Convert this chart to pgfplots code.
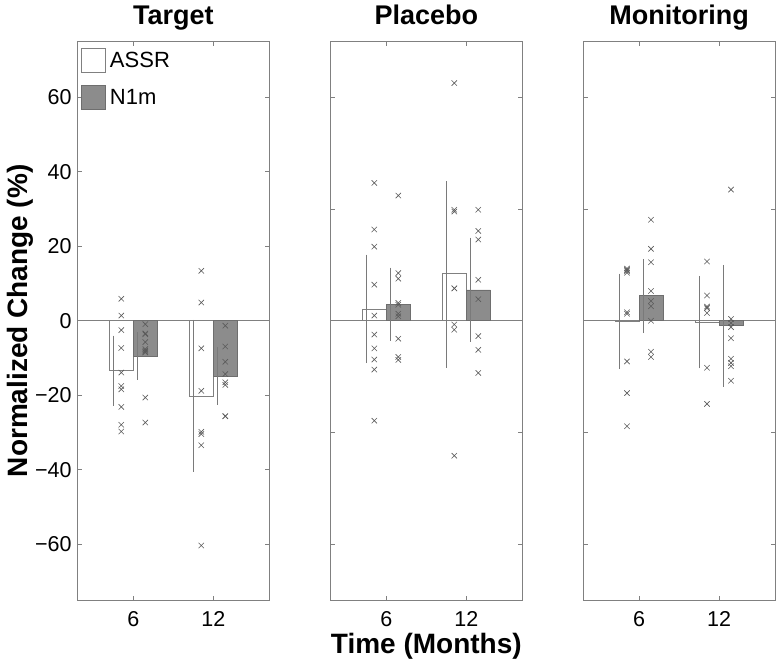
\documentclass[border=0pt]{standalone}
\usepackage{fontspec}
\setmainfont{Liberation Sans}
\usepackage{pgfplots}
\pgfplotsset{compat=1.18}
\definecolor{axgray}{HTML}{808080}
\definecolor{barfill}{HTML}{8C8C8C}
\definecolor{baredge}{HTML}{6E6E6E}
\definecolor{crossgray}{HTML}{5A5A5A}
\definecolor{errgray}{HTML}{7A7A7A}
\pgfplotsset{
  panel/.style={
    scale only axis, width=192bp, height=559bp,
    xmin=0.3, xmax=2.7, ymin=-75, ymax=75,
    xtick={1,2}, xticklabels={6,12},
    axis line style={axgray, line width=0.8bp},
    every tick/.style={axgray, line width=0.8bp},
    major tick length=4.5bp,
    tick align=inside,
    tick label style={font=\fontsize{21.5bp}{24bp}\selectfont, text=black},
    xticklabel style={anchor=base, yshift=-26.4bp},
    yticklabel style={anchor=east, inner sep=0pt, xshift=-5.5bp},
    title style={font=\fontsize{27bp}{30bp}\selectfont\bfseries, at={(0.5,1)}, anchor=base, yshift=11bp},
    anchor=south west,
  },
  cross/.style={forget plot, only marks, mark=x, mark size=3.8bp, mark options={crossgray, line width=0.6bp}},
  assr/.style={forget plot, ybar, bar width=0.3, bar shift=0pt, fill=white, draw=axgray, line width=0.7bp},
  nonem/.style={forget plot, ybar, bar width=0.3, bar shift=0pt, fill=barfill, draw=baredge, line width=0.7bp},
  errs/.style={forget plot, draw=none, mark=none,
    error bars/.cd, y dir=both, y explicit,
    error bar style={draw=errgray, line width=0.7bp},
    error mark options={draw=errgray, mark size=2bp, line width=0.7bp}},
  zeroline/.style={forget plot, axgray, line width=0.8bp},
}
\begin{document}
\begin{tikzpicture}
\path[use as bounding box] (0,0) rectangle (776bp,659bp);
% ---------------- Target ----------------
\begin{axis}[panel, at={(77.3bp,58.7bp)}, title={Target},
  ytick={-60,-40,-20,0,20,40,60}, yticklabels={−60,−40,−20,0,20,40,60},
  ylabel={Normalized Change (\%)},
  ylabel style={font=\fontsize{28bp}{30bp}\selectfont\bfseries, at={(rel axis cs:-0.2604,0.5)}, anchor=base, rotate=0},
  legend style={at={(0,1)}, anchor=north west, xshift=3.7bp, yshift=-6.4bp, inner sep=0pt, draw=none, fill=none,
    font=\fontsize{22bp}{24bp}\selectfont, row sep=12.2bp, column sep=4bp, nodes={inner sep=0pt, anchor=west}},
  ]
\addlegendimage{legend image code/.code={\draw[draw=axgray, fill=white, line width=0.8bp] (0bp,-12bp) rectangle (24bp,12bp);}}
\addlegendentry{ASSR}
\addlegendimage{legend image code/.code={\draw[draw=baredge, fill=barfill, line width=0.8bp] (0bp,-12bp) rectangle (24bp,12bp);}}
\addlegendentry{N1m}
\addplot[zeroline] coordinates {(0.3,0) (2.7,0)};
\addplot[assr] coordinates {(0.85,-13.3) (1.85,-20.3)};
\addplot[nonem] coordinates {(1.15,-9.5) (2.15,-14.8)};
\addplot[errs] table[x=x, y=y, y error=e] {
x y e
0.75 -13.35 8.85
1.05 -9.45 5.85
1.75 -20.15 19.85
2.05 -14.8 7.2
};
\addplot[cross] coordinates {(0.85,5.9) (0.85,1.4) (0.85,-2.5) (0.85,-7.3) (0.85,-13.9) (0.85,-17.5) (0.85,-18.4) (0.85,-23.1) (0.85,-27.9) (0.85,-29.7)};
\addplot[cross] coordinates {(1.15,-0.9) (1.15,-3.4) (1.15,-3.6) (1.15,-5.7) (1.15,-7.6) (1.15,-8.0) (1.15,-8.3) (1.15,-8.5) (1.15,-20.6) (1.15,-27.3)};
\addplot[cross] coordinates {(1.85,13.4) (1.85,4.9) (1.85,-7.4) (1.85,-18.8) (1.85,-29.8) (1.85,-30.4) (1.85,-33.4) (1.85,-60.3)};
\addplot[cross] coordinates {(2.15,-1.3) (2.15,-6.9) (2.15,-11.0) (2.15,-14.3) (2.15,-16.5) (2.15,-17.2) (2.15,-25.6) (2.15,-25.6)};
\end{axis}
% ---------------- Placebo ----------------
\begin{axis}[panel, at={(330.3bp,58.7bp)}, title={Placebo},
  ytick={-60,-30,0,30,60}, yticklabels={},
  xlabel={Time (Months)},
  xlabel style={font=\fontsize{28bp}{30bp}\selectfont\bfseries, at={(rel axis cs:0.5,0)}, anchor=base, yshift=-53bp},
  ]
\addplot[zeroline] coordinates {(0.3,0) (2.7,0)};
\addplot[assr] coordinates {(0.85,3.2) (1.85,12.6)};
\addplot[nonem] coordinates {(1.15,4.5) (2.15,8.3)};
\addplot[errs] table[x=x, y=y, y error=e] {
x y e
0.75 3.2 14.0
1.05 4.45 9.25
1.75 12.45 24.45
2.05 8.35 13.45
};
\addplot[cross] coordinates {(0.85,37.0) (0.85,24.5) (0.85,19.9) (0.85,9.7) (0.85,1.4) (0.85,-3.7) (0.85,-7.4) (0.85,-10.4) (0.85,-13.1) (0.85,-26.8)};
\addplot[cross] coordinates {(1.15,33.6) (1.15,12.8) (1.15,11.3) (1.15,4.8) (1.15,4.3) (1.15,1.9) (1.15,1.2) (1.15,-4.8) (1.15,-9.7) (1.15,-10.5)};
\addplot[cross] coordinates {(1.85,63.8) (1.85,29.8) (1.85,29.3) (1.85,8.7) (1.85,8.7) (1.85,-1.0) (1.85,-2.4) (1.85,-36.2)};
\addplot[cross] coordinates {(2.15,29.8) (2.15,24.1) (2.15,21.8) (2.15,11.0) (2.15,5.8) (2.15,-4.1) (2.15,-7.8) (2.15,-14.0)};
\end{axis}
% ---------------- Monitoring ----------------
\begin{axis}[panel, at={(583bp,58.7bp)}, title={Monitoring},
  ytick={-60,-30,0,30,60}, yticklabels={},
  ]
\addplot[zeroline] coordinates {(0.3,0) (2.7,0)};
\addplot[assr] coordinates {(0.85,-0.1) (1.85,-0.3)};
\addplot[nonem] coordinates {(1.15,6.8) (2.15,-1.3)};
\addplot[errs] table[x=x, y=y, y error=e] {
x y e
0.75 -0.15 12.25
1.05 6.65 9.45
1.75 -0.35 11.85
2.05 -1.3 15.8
};
\addplot[cross] coordinates {(0.85,14.0) (0.85,13.6) (0.85,13.3) (0.85,12.9) (0.85,2.3) (0.85,1.9) (0.85,-10.9) (0.85,-19.4) (0.85,-28.3)};
\addplot[cross] coordinates {(1.15,27.1) (1.15,19.3) (1.15,15.7) (1.15,8.0) (1.15,5.3) (1.15,3.9) (1.15,0.0) (1.15,-8.3) (1.15,-9.7)};
\addplot[cross] coordinates {(1.85,15.9) (1.85,6.8) (1.85,3.8) (1.85,3.4) (1.85,2.1) (1.85,-12.6) (1.85,-22.3)};
\addplot[cross] coordinates {(2.15,35.2) (2.15,0.5) (2.15,-0.6) (2.15,-1.7) (2.15,-4.7) (2.15,-10.2) (2.15,-11.3) (2.15,-12.2) (2.15,-16.1)};
\end{axis}
\end{tikzpicture}
\end{document}
